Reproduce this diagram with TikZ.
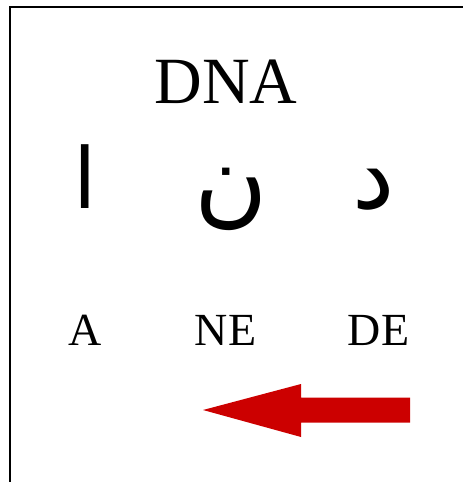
\documentclass[tikz,border=0pt]{standalone}
\usepackage{fontspec}
\setmainfont{Liberation Serif}
\newfontfamily\arabicfont[Script=Arabic]{DejaVu Sans}
\TeXXeTstate=1
\usepackage{tikz}
\usepackage[dvipsnames,svgnames,x11names]{xcolor}
\definecolor{arrowred}{HTML}{CC0000}

\begin{document}
\begin{tikzpicture}[
    x=1pt, y=-1pt,
    latin/.style={anchor=base, inner sep=0pt, font=\fontsize{46}{46}\selectfont},
    title/.style={anchor=base, inner sep=0pt, font=\fontsize{66}{66}\selectfont},
    letter/.style={anchor=base, inner sep=0pt, font=\arabicfont\fontsize{#1}{#1}\selectfont}
]

    \useasboundingbox (0,0) rectangle (463,482);

    \draw[
        line width=2pt,
        black
    ] (10,482) -- (10,6.5) -- (463,6.5);

    \node[title] (dna) at (226,103) {DNA};

    \node[letter=84] (alif) at (85,208) {\beginR ا\endR};
    \node[letter=100] (nun) at (231,214) {\beginR ن\endR};
    \node[letter=95] (dal) at (374,208) {\beginR د\endR};

    \node[latin] (a) at (85,345) {A};
    \node[latin] (ne) at (225.5,345) {NE};
    \node[latin] (de) at (378.5,345) {DE};

    \fill[
        arrowred
    ] (410,397.5) -- (301,397.5) -- (301,384) -- (203,410)
      -- (301,437) -- (301,422.5) -- (410,422.5) -- cycle;

\end{tikzpicture}
\end{document}
